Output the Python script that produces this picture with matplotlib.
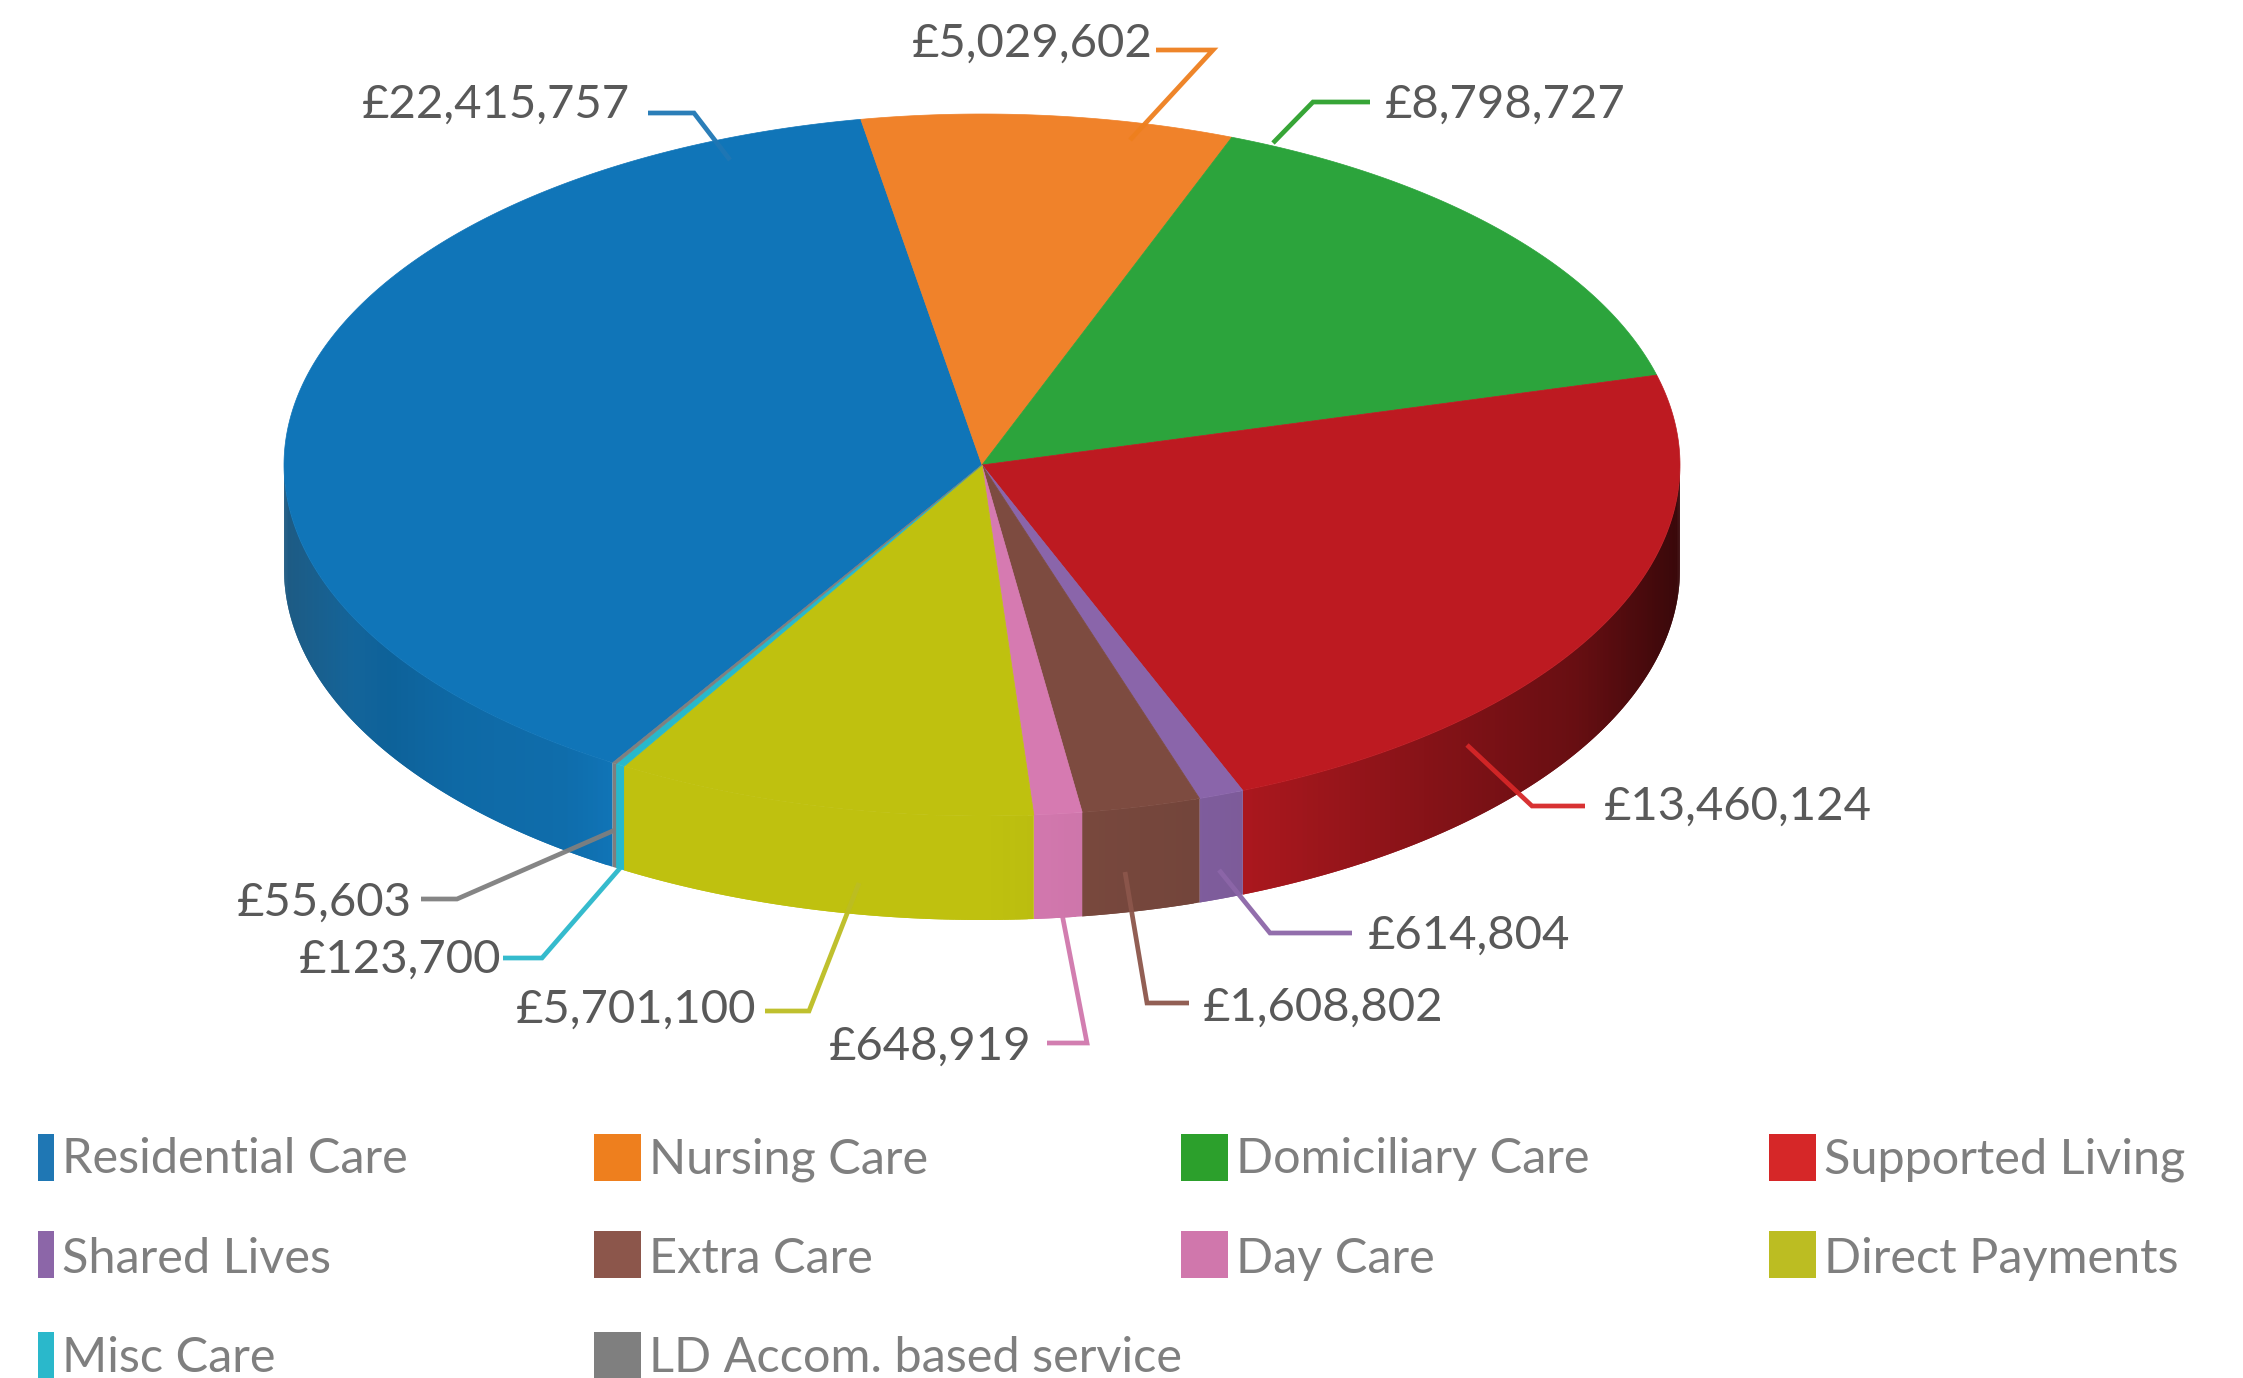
import numpy as np
import matplotlib
matplotlib.use("Agg")
import matplotlib.pyplot as plt
from matplotlib.patches import Rectangle

# categories and values, clockwise
categories = ["Residential Care", "Nursing Care", "Domiciliary Care", "Supported Living",
              "Shared Lives", "Extra Care", "Day Care", "Direct Payments",
              "Misc Care", "LD Accom. based service"]
values = [22415757, 5029602, 8798727, 13460124, 614804, 1608802, 648919, 5701100, 123700, 55603]

# styles
top_colors = ["#1075b8", "#f0822a", "#2ca43c", "#bd1a21", "#8a65aa",
              "#7d4b40", "#d67ab1", "#bfc10f", "#27b8cc", "#7f7f7f"]
key_colors = ["#1f77b4", "#ee7f1e", "#2ca02c", "#d62728", "#8c66a8",
              "#8c564b", "#d077ac", "#bcbd22", "#2ab8cb", "#7f7f7f"]

W, H = 2243, 1378
cx, cy, rx, ry, depth = 982, 465, 698, 351, 104
nursing_start_deg = 100.0  # screen angle of the Residential / Nursing boundary

# leader lines (pixel layout), slice end first
leaders = [
    [(730, 160), (694, 113), (648, 113)],
    [(1130, 140), (1213, 50), (1156, 50)],
    [(1273, 143), (1313, 102), (1370, 102)],
    [(1467, 745), (1532, 806), (1585, 806)],
    [(1219, 870), (1270, 933), (1352, 933)],
    [(1125, 872), (1147, 1003), (1189, 1003)],
    [(1057, 888), (1087, 1043), (1047, 1043)],
    [(859, 883), (809, 1011), (765, 1011)],
    [(621, 867), (542, 958), (503, 958)],
    [(615, 830), (457, 899), (421, 899)],
]
# label anchor: x, y, horizontal alignment
label_pos = [
    (630, 105, "right"), (1153, 44, "right"), (1385, 105, "left"), (1604, 807, "left"),
    (1368, 936, "left"), (1203, 1008, "left"), (1032, 1047, "right"), (756, 1010, "right"),
    (501, 960, "right"), (412, 903, "right"),
]
legend_x = [38, 594, 1181, 1769]
legend_y = [1134, 1231, 1332]
legend_base = [1173, 1273, 1372]

total = sum(values)
edges = np.cumsum([0] + values) / total * 360.0


def project(t_deg):
    """Clockwise pie position -> screen angle."""
    tt = (np.asarray(t_deg, dtype=float) - edges[1]) % 360
    return nursing_start_deg - tt


def shade(col, theta):
    """Darken the rim towards the two sides of the pie, the left side goes a bit grey."""
    c = np.cos(np.radians(theta))
    f = np.interp(c, [-1, -0.9, -0.75, -0.6, -0.52, 0, 0.38, 0.65, 0.85, 1],
                  [0.6, 0.8, 0.9, 0.93, 1.0, 1.0, 0.9, 0.7, 0.55, 0.3])
    lift = np.interp(c, [-1, -0.85], [0.08, 0.0])
    return tuple(np.clip(np.array(matplotlib.colors.to_rgb(col)) * f + lift, 0, 1))


plt.rcParams["font.family"] = ["Lato", "DejaVu Sans"]
fig = plt.figure(figsize=(W / 100, H / 100), dpi=100)
ax = fig.add_axes([0, 0, 1, 1])
ax.set_xlim(0, W)
ax.set_ylim(H, 0)
ax.axis("off")

# rim first, each strip runs on under the next one so no seams show
for i, col in enumerate(top_colors):
    ts = np.arange(edges[i], edges[i + 1], 0.5)
    ts = np.append(ts, edges[i + 1])
    for j in range(len(ts) - 1):
        a = ts[j]
        b = ts[min(j + 2, len(ts) - 1)]
        th_a, th_b = float(project(a)), float(project(b))
        if np.sin(np.radians(th_a)) > 0 and np.sin(np.radians(th_b)) > 0:
            continue
        xa, xb = cx + rx * np.cos(np.radians([th_a, th_b]))
        ya, yb = cy - ry * np.sin(np.radians([th_a, th_b]))
        face = shade(col, float(project(ts[j] + 0.25)))
        ax.fill([xa, xb, xb, xa], [ya, yb, yb + depth, ya + depth],
                facecolor=face, edgecolor="none", lw=0, zorder=1)

# top of the pie
for i, col in enumerate(top_colors):
    ts = np.linspace(edges[i], edges[i + 1], max(3, int(edges[i + 1] - edges[i]) * 2))
    th = np.radians(project(ts))
    xs = np.r_[cx, cx + rx * np.cos(th)]
    ys = np.r_[cy, cy - ry * np.sin(th)]
    ax.fill(xs, ys, facecolor=col, edgecolor=col, lw=0.5, zorder=2)

# data labels with leader lines
for i, v in enumerate(values):
    pts = np.array(leaders[i])
    ax.plot(pts[:, 0], pts[:, 1], color=key_colors[i], lw=3.4, alpha=0.95,
            solid_joinstyle="miter", solid_capstyle="butt", zorder=3)
    x, y, ha = label_pos[i]
    ax.text(x, y, f"£{v:,}", ha=ha, va="center", fontsize=34, color="#595959", zorder=4)

# legend, four columns
for i, name in enumerate(categories):
    col_i, row_i = i % 4, i // 4
    x0 = legend_x[col_i]
    y0 = legend_y[row_i]
    sw = 16 if col_i == 0 else 47
    ax.add_patch(Rectangle((x0, y0), sw, 47, facecolor=key_colors[i], edgecolor="none", zorder=3))
    ax.text(x0 + sw + 8, legend_base[row_i], name, ha="left", va="baseline",
            fontsize=35, color="#7f7f7f")

fig.savefig("out.png", dpi=100)
